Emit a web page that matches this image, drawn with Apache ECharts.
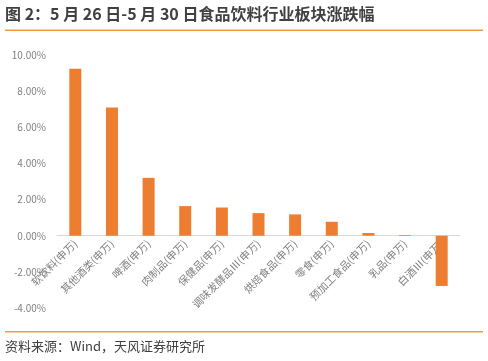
<!DOCTYPE html>
<html><head><meta charset="utf-8">
<script src="https://cdn.jsdelivr.net/npm/echarts@6/dist/echarts.min.js"></script>
<style>html,body{margin:0;padding:0;background:#fff}#c{width:488px;height:361px}</style>
</head><body><div id="c"></div>
<script>
const categories = ['软饮料(申万)','其他酒类(申万)','啤酒(申万)','肉制品(申万)','保健品(申万)','调味发酵品Ⅲ(申万)','烘焙食品(申万)','零食(申万)','预加工食品(申万)','乳品(申万)','白酒Ⅲ(申万)'];
const changePct = [9.24, 7.09, 3.20, 1.64, 1.56, 1.25, 1.18, 0.77, 0.15, 0.04, -2.78];
const yTicks = {min: -4, max: 10, interval: 2};
const titleText = '图 2：5 月 26 日-5 月 30 日食品饮料行业板块涨跌幅';
const sourceText = '资料来源：Wind，天风证券研究所';

const chart = echarts.init(document.getElementById('c'), null, {renderer: 'canvas'});
const font = '"Noto Sans CJK SC", "Noto Sans", sans-serif';
chart.setOption({
  animation: false,
  backgroundColor: '#fff',
  textStyle: {fontFamily: font},
  graphic: [
    {type: 'text', left: 5, top: 6, style: {text: titleText, font: 'bold 16px ' + font, fill: '#404040'}},
    {type: 'rect', shape: {x: 5, y: 29.5, width: 478, height: 1.5}, style: {fill: '#F39A3C'}},
    {type: 'rect', shape: {x: 5, y: 331, width: 478, height: 1.5}, style: {fill: '#F39A3C'}},
    {type: 'text', left: 5, top: 340, style: {text: sourceText, font: '13px ' + font, fill: '#404040'}}
  ],
  grid: {left: 57, right: 28, top: 55, bottom: 53, containLabel: false, outerBoundsMode: 'none'},
  xAxis: {
    type: 'category', data: categories,
    axisLine: {onZero: false, lineStyle: {color: '#D9D9D9', width: 1}},
    axisTick: {show: false},
    axisLabel: {rotate: 45, fontSize: 10.5, color: '#7F7F7F', interval: 0, margin: 6, fontFamily: font}
  },
  yAxis: {
    type: 'value', min: yTicks.min, max: yTicks.max, interval: yTicks.interval,
    splitLine: {show: false}, axisLine: {show: false}, axisTick: {show: false},
    axisLabel: {fontSize: 10, color: '#7F7F7F', margin: 11, formatter: v => v.toFixed(2) + '%', fontFamily: font}
  },
  series: [{
    type: 'bar', data: changePct, barWidth: 12,
    itemStyle: {color: '#ED7D31'}
  }]
});
// move the category axis (line + labels) up to the zero level of the value axis
const zeroY = chart.convertToPixel({yAxisIndex: 0}, 0);
const minY = chart.convertToPixel({yAxisIndex: 0}, yTicks.min);
chart.setOption({xAxis: {offset: zeroY - minY}});
</script></body></html>
